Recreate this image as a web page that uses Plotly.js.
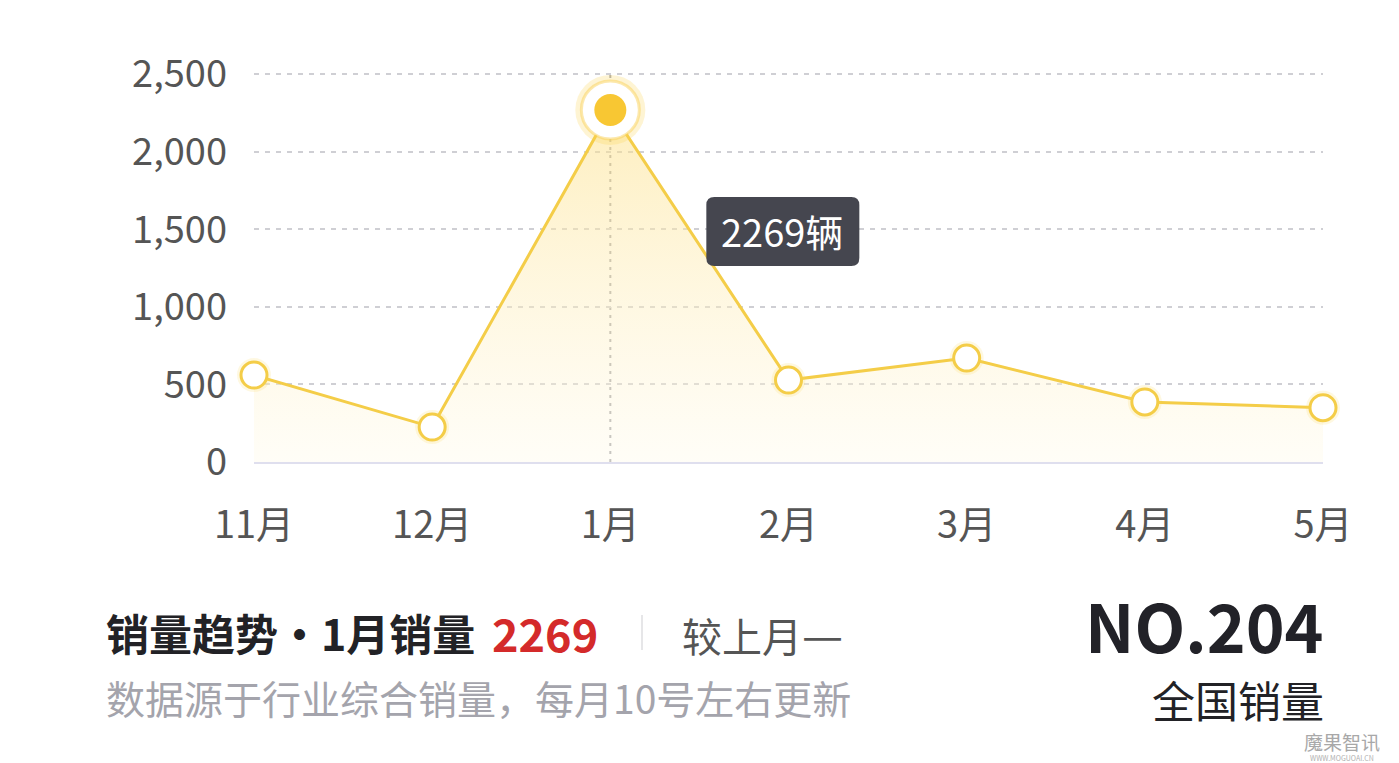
<!DOCTYPE html>
<html>
<head>
<meta charset="utf-8">
<script src="https://cdn.plot.ly/plotly-3.0.1.min.js"></script>
<style>
  html, body { margin: 0; padding: 0; background: #ffffff; }
  #chart { width: 1399px; height: 763px; }
</style>
</head>
<body>
<div id="chart"></div>
<script>
// ---- data ----
const months = ['11月', '12月', '1月', '2月', '3月', '4月', '5月'];
const sales = [560, 225, 2269, 528, 670, 387, 350];
const yTicks = [0, 500, 1000, 1500, 2000, 2500];
const highlightIndex = 2;
const rankText = 'NO.204';
const unit = '辆';

// ---- layout helpers (pixel -> paper) ----
const W = 1399, H = 763;
const PL = 254, PR = 1323, PT = 71, PB = 462;
const px = x => (x - PL) / (PR - PL);
const py = y => (PB - y) / (PB - PT);

const FONT = '"Noto Sans CJK SC", "Noto Sans", sans-serif';
const hlCat = months[highlightIndex];
const hlVal = sales[highlightIndex];

const lineTrace = {
  type: 'scatter', mode: 'lines',
  x: months, y: sales,
  line: { color: '#f4cd48', width: 3 },
  fill: 'tozeroy',
  fillgradient: {
    type: 'vertical',
    start: 0, stop: 2300,
    colorscale: [[0, 'rgba(255,250,232,0.35)'], [1, 'rgba(253,224,135,0.55)']]
  },
  hoverinfo: 'skip', cliponaxis: false
};

const glowTrace = {
  type: 'scatter', mode: 'markers',
  x: months, y: sales,
  marker: { size: 34, color: 'rgba(250,215,90,0.18)', line: { width: 0 } },
  hoverinfo: 'skip', cliponaxis: false
};

const pointTrace = {
  type: 'scatter', mode: 'markers',
  x: months, y: sales,
  marker: { size: 26, color: '#ffffff', line: { color: '#f4cd48', width: 3 } },
  hoverinfo: 'skip', cliponaxis: false
};

const hlGlow = {
  type: 'scatter', mode: 'markers',
  x: [hlCat], y: [hlVal],
  marker: { size: 70, color: 'rgba(250,210,80,0.25)', line: { width: 0 } },
  hoverinfo: 'skip', cliponaxis: false
};
const hlRing = {
  type: 'scatter', mode: 'markers',
  x: [hlCat], y: [hlVal],
  marker: { size: 58, color: '#ffffff', line: { color: 'rgba(250,210,90,0.5)', width: 3 } },
  hoverinfo: 'skip', cliponaxis: false
};
const hlDot = {
  type: 'scatter', mode: 'markers',
  x: [hlCat], y: [hlVal],
  marker: { size: 32, color: '#f8c733', line: { width: 0 } },
  hoverinfo: 'skip', cliponaxis: false
};

const tipPath = 'M104,-87 H241 Q249,-87 249,-95 V-148 Q249,-156 241,-156 H104 Q96,-156 96,-148 V-95 Q96,-87 104,-87 Z';

const layout = {
  width: W, height: H,
  margin: { l: PL, r: W - PR, t: PT, b: H - PB, pad: 0 },
  paper_bgcolor: '#ffffff', plot_bgcolor: '#ffffff',
  showlegend: false,
  font: { family: FONT, color: '#555555' },
  xaxis: {
    type: 'category', range: [0, months.length - 1],
    showgrid: false, zeroline: false,
    showline: true, linecolor: '#dfdfee', linewidth: 2,
    ticks: '', ticklabelstandoff: 28,
    tickfont: { size: 38, color: '#555555', family: FONT },
    fixedrange: true
  },
  yaxis: {
    range: [0, 2520], tickvals: yTicks, tickformat: ',d',
    showgrid: true, gridcolor: '#cfcfd4', gridwidth: 2, griddash: '5px,6px',
    zeroline: false, showline: false,
    ticks: '', ticklabelstandoff: 26,
    tickfont: { size: 38, color: '#555555', family: FONT },
    fixedrange: true
  },
  shapes: [
    { type: 'line', xref: 'x', yref: 'paper', x0: hlCat, x1: hlCat, y0: 0, y1: 1,
      line: { color: '#aaaaae', width: 2, dash: '3px,5px' }, layer: 'below' },
    { type: 'path', xref: 'x', yref: 'y', xsizemode: 'pixel', ysizemode: 'pixel',
      xanchor: hlCat, yanchor: hlVal, path: tipPath,
      fillcolor: '#45464f', line: { width: 0 }, layer: 'above' },
    { type: 'line', xref: 'paper', yref: 'paper', x0: px(642), x1: px(642), y0: py(615), y1: py(650),
      line: { color: '#e6e6e8', width: 2 } }
  ],
  annotations: [
    { x: hlCat, y: hlVal, xref: 'x', yref: 'y', xshift: 172, yshift: -121,
      text: hlVal + unit, showarrow: false,
      font: { size: 38, color: '#ffffff', family: FONT } },
    { x: px(104), y: py(632), xref: 'paper', yref: 'paper', xanchor: 'left', yanchor: 'middle',
      text: '<b>销量趋势•' + hlCat + '销量</b>', showarrow: false,
      font: { size: 43, color: '#222226', family: FONT } },
    { x: px(490), y: py(632), xref: 'paper', yref: 'paper', xanchor: 'left', yanchor: 'middle',
      text: '<b>' + hlVal + '</b>', showarrow: false,
      font: { size: 45, color: '#d42a2a', family: FONT } },
    { x: px(680), y: py(632), xref: 'paper', yref: 'paper', xanchor: 'left', yanchor: 'middle',
      text: '较上月<span style="font-size:46px">—</span>', showarrow: false,
      font: { size: 40, color: '#555555', family: FONT } },
    { x: px(104), y: py(697), xref: 'paper', yref: 'paper', xanchor: 'left', yanchor: 'middle',
      text: '数据源于行业综合销量，每月10号左右更新', showarrow: false,
      font: { size: 39, color: '#a4a4ac', family: FONT } },
    { x: px(1326), y: py(624), xref: 'paper', yref: 'paper', xanchor: 'right', yanchor: 'middle',
      text: '<b>' + rankText + '</b>', showarrow: false,
      font: { size: 66, color: '#222228', family: FONT } },
    { x: px(1326), y: py(699), xref: 'paper', yref: 'paper', xanchor: 'right', yanchor: 'middle',
      text: '全国销量', showarrow: false,
      font: { size: 43, color: '#222226', family: FONT } },
    { x: px(1342), y: py(741), xref: 'paper', yref: 'paper', xanchor: 'center', yanchor: 'middle',
      text: '魔果智讯', showarrow: false,
      font: { size: 19, color: '#a8a8a8', family: FONT } },
    { x: px(1342), y: py(758), xref: 'paper', yref: 'paper', xanchor: 'center', yanchor: 'middle',
      text: 'WWW.MOGUOAI.CN', showarrow: false,
      font: { size: 7, color: '#b0b0b0', family: FONT } }
  ]
};

Plotly.newPlot('chart', [lineTrace, glowTrace, pointTrace, hlGlow, hlRing, hlDot], layout,
  { displayModeBar: false, staticPlot: true });
</script>
</body>
</html>
